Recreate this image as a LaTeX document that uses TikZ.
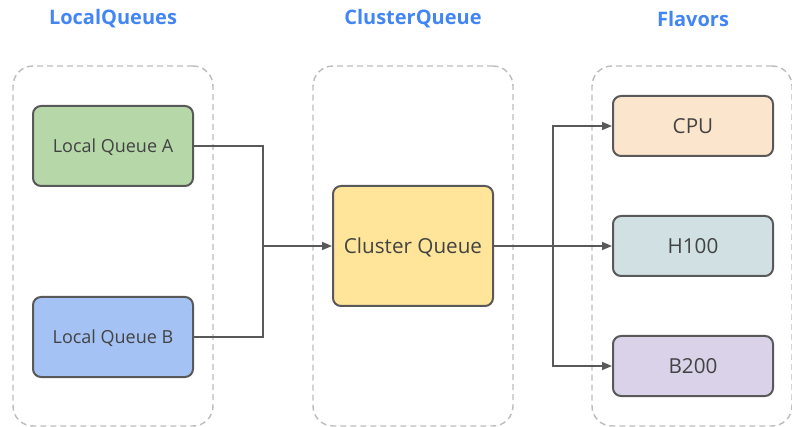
\documentclass[tikz,border=0pt]{standalone}
\usepackage{fontspec}
\setmainfont{Open Sans}
\usepackage{xcolor}
\usetikzlibrary{arrows.meta}
\definecolor{titleblue}{HTML}{4285F4}
\definecolor{edgegray}{HTML}{595959}
\definecolor{textgray}{HTML}{434343}
\definecolor{groupgray}{HTML}{BDBDBD}
\definecolor{lqagreen}{HTML}{B6D7A8}
\definecolor{lqbblue}{HTML}{A4C2F4}
\definecolor{cqyellow}{HTML}{FFE599}
\definecolor{cpuorange}{HTML}{FCE5CD}
\definecolor{hteal}{HTML}{D0E0E3}
\definecolor{bpurple}{HTML}{D9D2E9}
\tikzset{
  group/.style={draw=groupgray, line width=1.1pt, dash pattern=on 4.5pt off 3pt,
    rounded corners=15pt, minimum width=150pt, minimum height=270pt},
  title/.style={text=titleblue, font=\bfseries\fontsize{15}{18}\selectfont},
  qbox/.style={draw=edgegray, line width=1.5pt, rounded corners=6pt, text=textgray,
    minimum width=120pt, text height=9.6pt, text depth=0pt,
    font=\fontsize{13.5}{16}\selectfont},
  bigtext/.style={font=\fontsize{15.5}{18}\selectfont, text height=11.1pt},
  link/.style={draw=edgegray, line width=1.1pt},
  tip/.style={-{Triangle[length=7.5pt, width=6pt]}}
}
\begin{document}
\begin{tikzpicture}[x=0.75pt, y=-0.75pt]
\useasboundingbox (0,0) rectangle (792,427);
% groups
\node[group] (gLocal) at (113,246) {};
\node[group] (gCluster) at (413,246) {};
\node[group] (gFlavor) at (692,246) {};
\node[title] (tLocal) at (113,19) {LocalQueues};
\node[title] (tCluster) at (413,19) {ClusterQueue};
\node[title] (tFlavor) at (693,19) {Flavors};
% queues
\node[qbox, fill=lqagreen, minimum height=60pt] (lqa) at (113,146) {Local Queue A};
\node[qbox, fill=lqbblue, minimum height=60pt] (lqb) at (113,337) {Local Queue B};
\node[qbox, bigtext, fill=cqyellow, minimum height=90pt] (cq) at (413,246) {Cluster Queue};
% flavors
\node[qbox, bigtext, fill=cpuorange, minimum height=45pt] (cpu) at (693,126) {CPU};
\node[qbox, bigtext, fill=hteal, minimum height=45pt] (h100) at (693,246) {H100};
\node[qbox, bigtext, fill=bpurple, minimum height=45pt] (b200) at (693,366) {B200};
% connectors
\coordinate (joinL) at (263,246);
\coordinate (split) at (553,246);
\draw[link, tip] (lqa.east) -| (joinL) -- (cq.west);
\draw[link] (lqb.east) -| (joinL);
\draw[link] (cq.east) -- (split);
\draw[link, tip] (split) |- (cpu.west);
\draw[link, tip] (split) -- (h100.west);
\draw[link, tip] (split) |- (b200.west);
\end{tikzpicture}
\end{document}
